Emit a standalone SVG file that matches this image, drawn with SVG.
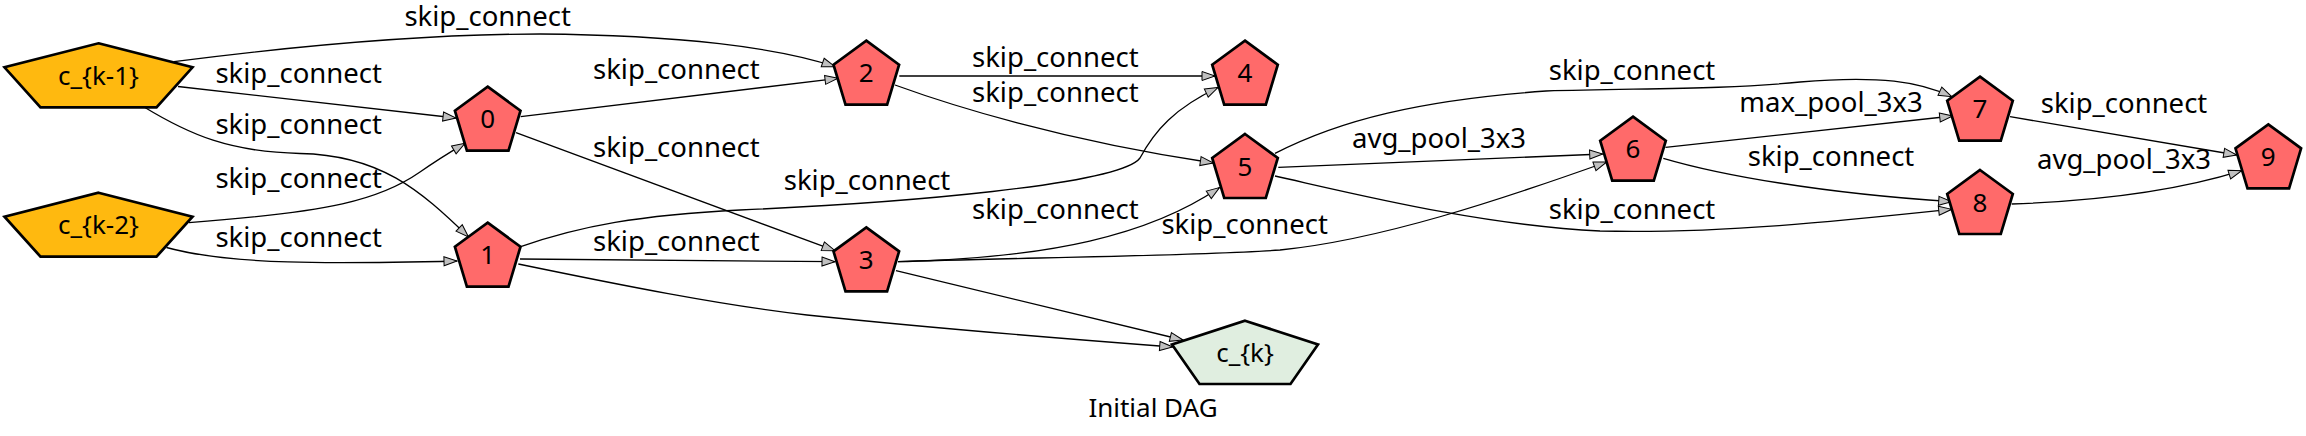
<svg xmlns="http://www.w3.org/2000/svg" width="2306" height="436" viewBox="0 0 2306 436">
<style>
  text { font-family: "Noto Sans", "Open Sans", "DejaVu Sans", sans-serif; font-size: 26px; fill: #000; }
  .lbl { text-anchor: middle; font-size: 27.5px; }
  .node polygon { stroke: #000; stroke-width: 2.7; stroke-linejoin: miter; }
  .op polygon { fill: #ff6a6a; }
  .in polygon { fill: #ffb90f; }
  .out polygon { fill: #e0eee0; }
  .node text { text-anchor: middle; }
  #edges path { fill: none; stroke: #000; stroke-width: 1.3; marker-end: url(#arr); }
</style>
<defs>
  <marker id="arr" markerUnits="userSpaceOnUse" viewBox="0 0 13 9" markerWidth="13" markerHeight="9" refX="13" refY="4.5" orient="auto" overflow="visible">
    <polygon points="0,0 13,4.5 0,9" fill="#c0c0c0" stroke="#000" stroke-width="1"/>
  </marker>
</defs>
<rect width="2306" height="436" fill="#fff"/>
<g id="edges">
  <path d="M174,61.7 C280,48 420,34 540,34 C680,35 780,48 835,66.7"/>
  <path d="M178,86.5 L456,118"/>
  <path d="M144.5,107.3 C190,135 230,152 300,153.5 C380,155 420,190 468.5,237"/>
  <path d="M189,222.7 C330,212 380,200 420,172 C440,158 452,151 465,143.3"/>
  <path d="M166.5,247.5 C230,265 330,264 457,261"/>
  <path d="M520.7,116.7 L838,78.3"/>
  <path d="M516,132.7 L835,250.7"/>
  <path d="M520,259 L835,261.7"/>
  <path d="M520.7,246.7 C580,226 640,215 740,210 C900,203 1120,185 1140,158 C1155,130 1175,108 1218,87.5"/>
  <path d="M518.3,264 C620,285 720,305 807,315 C950,330 1080,340 1172.7,347"/>
  <path d="M899.3,76 L1215,76"/>
  <path d="M895,85 C950,105 1060,140 1213.3,163"/>
  <path d="M898,261.7 C1050,258 1150,235 1219.5,187.5"/>
  <path d="M898,261.7 C1000,258 1200,256 1280,250 C1380,240 1500,200 1606.7,162"/>
  <path d="M896,270.7 L1183,340"/>
  <path d="M1275,153.3 C1340,120 1420,100 1546,91 C1640,88 1720,90 1800,82 C1880,75 1920,82 1951.7,96.7"/>
  <path d="M1278.3,167.3 L1602.7,154"/>
  <path d="M1275,176 C1360,195 1480,225 1600,231 C1720,234 1850,220 1951.7,209.3"/>
  <path d="M1665.5,147.3 L1952.7,116"/>
  <path d="M1663.3,158.3 C1720,175 1820,193 1951.7,201.7"/>
  <path d="M2010,116.7 L2236.7,155"/>
  <path d="M2011.7,204 C2100,201 2180,190 2241.7,170.7"/>
</g>
<g id="edge-labels">
  <text class="lbl" x="487.7" y="26">skip_connect</text>
  <text class="lbl" x="298.7" y="83.3">skip_connect</text>
  <text class="lbl" x="298.7" y="134.3">skip_connect</text>
  <text class="lbl" x="298.7" y="187.7">skip_connect</text>
  <text class="lbl" x="298.7" y="246.7">skip_connect</text>
  <text class="lbl" x="676.3" y="78.8">skip_connect</text>
  <text class="lbl" x="676.3" y="156.7">skip_connect</text>
  <text class="lbl" x="676.3" y="251">skip_connect</text>
  <text class="lbl" x="867" y="190">skip_connect</text>
  <text class="lbl" x="1055.3" y="67.3">skip_connect</text>
  <text class="lbl" x="1055.3" y="101.7">skip_connect</text>
  <text class="lbl" x="1055.3" y="219.3">skip_connect</text>
  <text class="lbl" x="1244.7" y="234">skip_connect</text>
  <text class="lbl" x="1632" y="80">skip_connect</text>
  <text class="lbl" x="1439" y="148.3">avg_pool_3x3</text>
  <text class="lbl" x="1632" y="218.5">skip_connect</text>
  <text class="lbl" x="1831" y="111.7">max_pool_3x3</text>
  <text class="lbl" x="1831" y="165.5">skip_connect</text>
  <text class="lbl" x="2124" y="113.3">skip_connect</text>
  <text class="lbl" x="2124" y="169.3">avg_pool_3x3</text>
</g>
<g id="n_ck1" class="node in" transform="translate(98.5,75.3)">
  <polygon points="0,-32 94,-8 58,32 -58,32 -94,-8"/>
  <text x="0" y="9.7">c_{k-1}</text>
</g>
<g id="n_ck2" class="node in" transform="translate(98.5,224.7)">
  <polygon points="0,-32 94,-8 58,32 -58,32 -94,-8"/>
  <text x="0" y="9.7">c_{k-2}</text>
</g>
<g id="n0" class="node op" transform="translate(487.7,118.7)">
  <polygon points="0,-32 32.8,-8 20.8,32 -20.8,32 -32.8,-8"/>
  <text x="0" y="9.5">0</text>
</g>
<g id="n1" class="node op" transform="translate(487.7,254.7)">
  <polygon points="0,-32 32.8,-8 20.8,32 -20.8,32 -32.8,-8"/>
  <text x="0" y="9.5">1</text>
</g>
<g id="n2" class="node op" transform="translate(866.3,72.7)">
  <polygon points="0,-32 32.8,-8 20.8,32 -20.8,32 -32.8,-8"/>
  <text x="0" y="9.5">2</text>
</g>
<g id="n3" class="node op" transform="translate(866.3,259.3)">
  <polygon points="0,-32 32.8,-8 20.8,32 -20.8,32 -32.8,-8"/>
  <text x="0" y="9.5">3</text>
</g>
<g id="n4" class="node op" transform="translate(1245,72.7)">
  <polygon points="0,-32 32.8,-8 20.8,32 -20.8,32 -32.8,-8"/>
  <text x="0" y="9.5">4</text>
</g>
<g id="n5" class="node op" transform="translate(1245,166)">
  <polygon points="0,-32 32.8,-8 20.8,32 -20.8,32 -32.8,-8"/>
  <text x="0" y="9.5">5</text>
</g>
<g id="n6" class="node op" transform="translate(1633,148.7)">
  <polygon points="0,-32 32.8,-8 20.8,32 -20.8,32 -32.8,-8"/>
  <text x="0" y="9.5">6</text>
</g>
<g id="n7" class="node op" transform="translate(1980,108.7)">
  <polygon points="0,-32 32.8,-8 20.8,32 -20.8,32 -32.8,-8"/>
  <text x="0" y="9.5">7</text>
</g>
<g id="n8" class="node op" transform="translate(1980,202)">
  <polygon points="0,-32 32.8,-8 20.8,32 -20.8,32 -32.8,-8"/>
  <text x="0" y="9.5">8</text>
</g>
<g id="n9" class="node op" transform="translate(2268.3,156.3)">
  <polygon points="0,-32 32.8,-8 20.8,32 -20.8,32 -32.8,-8"/>
  <text x="0" y="9.5">9</text>
</g>
<g id="n_ck" class="node out" transform="translate(1245,352.4)">
  <polygon points="0,-31.7 73,-8 45.5,31.6 -45.5,31.6 -73,-8"/>
  <text x="0" y="9.7">c_{k}</text>
</g>
<text id="title" x="1153" y="416.7" text-anchor="middle">Initial DAG</text>
</svg>
